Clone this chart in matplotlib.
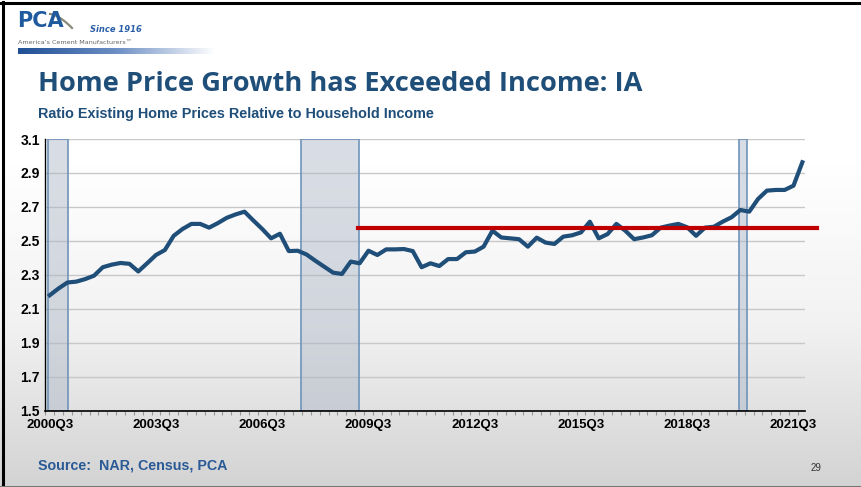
import numpy as np
import matplotlib.pyplot as plt
from matplotlib.colors import LinearSegmentedColormap

# === Daten ===
quarters = [f"{y}Q{q}" for y in range(2000, 2022) for q in range(1, 5)][2:]  # 2000Q3 .. 2021Q4
ratio = [2.18, 2.22, 2.255, 2.26, 2.275, 2.295, 2.345, 2.36, 2.37, 2.365,
         2.32, 2.368, 2.417, 2.446, 2.53, 2.57, 2.60, 2.60, 2.578, 2.605,
         2.636, 2.656, 2.672, 2.62, 2.57, 2.515, 2.542, 2.44, 2.442, 2.42,
         2.383, 2.348, 2.313, 2.305, 2.378, 2.368, 2.442, 2.417, 2.45, 2.45,
         2.452, 2.44, 2.345, 2.368, 2.352, 2.393, 2.393, 2.433, 2.437, 2.466,
         2.56, 2.52, 2.515, 2.51, 2.466, 2.519, 2.49, 2.482, 2.525, 2.533,
         2.55, 2.613, 2.515, 2.54, 2.60, 2.56, 2.51, 2.52, 2.533, 2.578,
         2.59, 2.60, 2.58, 2.53, 2.578, 2.583, 2.613, 2.639, 2.682, 2.672,
         2.747, 2.796, 2.80, 2.80, 2.825, 2.963]
recessions = [(-0.16, 2.1), (28.4, 34.9), (77.86, 78.8)]
avg_level = 2.578
avg_span = (34.84, 86.7)
tick_labels = quarters[::12]

blue = '#1f4e79'
x = np.arange(len(ratio))

fig = plt.figure(figsize=(8.61, 4.87), dpi=100)

# Hintergrund mit Verlauf
bg = fig.add_axes([0, 0, 1, 1], zorder=-10)
grad = np.linspace(0, 1, 256).reshape(-1, 1)
cmap = LinearSegmentedColormap.from_list('bg', ['#ffffff', '#ffffff', '#f2f2f2', '#d3d3d3'])
bg.imshow(grad, aspect='auto', cmap=cmap, extent=[0, 1, 0, 1], origin='upper')
bg.set_xlim(0, 1)
bg.set_ylim(0, 1)
bg.axis('off')

# Rahmen
bg.plot([0.003, 0.003], [0, 0.996], color='black', lw=2.2)
bg.plot([0, 1], [0.993, 0.993], color='black', lw=2.2)
bg.plot([0, 1], [0.001, 0.001], color='#777777', lw=1.5)

# Logo
bar = np.linspace(0, 1, 256).reshape(1, -1)
bar_cmap = LinearSegmentedColormap.from_list('bar', ['#1f4f95', '#6d8fc4', '#ffffff'])
bg.imshow(bar, aspect='auto', cmap=bar_cmap, extent=[18/861, 215/861, 1-54/487, 1-48/487])
fig.text(17/861, 1-21/487, 'PCA', fontsize=15, fontweight='bold', color='#1f5a9e',
         family='Liberation Sans Narrow', va='center')
t = np.linspace(0, 1, 20)
bg.plot((50 + 22 * t) / 861, 1 - (14 + 14 * t ** 1.6) / 487, color='#8a8a7a', lw=1.6)
fig.text(90/861, 1-29/487, 'Since 1916', fontsize=6, fontstyle='italic', fontweight='bold',
         color='#2a5fa8', va='center')
fig.text(18/861, 1-42/487, 'America\u2019s Cement Manufacturers\u2122', fontsize=4.6,
         color='#666666', va='center')

# Titel
fig.text(38/861, 1-84/487, 'Home Price Growth has Exceeded Income: IA', fontsize=19.6,
         fontweight='bold', color=blue, family='Open Sans', va='center')
fig.text(38/861, 1-114/487, 'Ratio Existing Home Prices Relative to Household Income',
         fontsize=10.4, fontweight='bold', color=blue, family='Liberation Sans', va='center')
fig.text(38/861, 1-466/487, 'Source:  NAR, Census, PCA', fontsize=10.3, fontweight='bold',
         color='#2a5a96', family='Liberation Sans', va='center')
fig.text(816/861, 1-468/487, '29', fontsize=7, color='#333333', family='Liberation Sans',
         va='center', ha='center')

# === Diagramm ===
ax = fig.add_axes([45.3/861, 1-410.7/487, (805-45.3)/861, (410.7-139)/487])
ax.set_facecolor('none')

for a, b in recessions:
    ax.axvspan(a, b, facecolor='#aab3c4', alpha=0.45, edgecolor='none', zorder=1)
    ax.axvspan(a, b, facecolor='none', edgecolor='#6f93bb', lw=1.2, zorder=1.5)

ax.plot(x, ratio, color=blue, lw=3, solid_joinstyle='round', zorder=3)
ax.plot(avg_span, [avg_level, avg_level], color='#c00000', lw=3, clip_on=False, zorder=4)

ax.set_ylim(1.5, 3.1)
ax.set_xlim(-0.5, 85.3)
ax.set_yticks(np.arange(1.5, 3.11, 0.2))
ax.set_yticklabels([f"{v:.1f}" for v in np.arange(1.5, 3.11, 0.2)])
ax.yaxis.grid(True, color='#c8c8c8', lw=1)
ax.set_axisbelow(True)
ax.tick_params(axis='y', length=0, pad=4)

ax.set_xticks(x[::12])
ax.set_xticklabels(tick_labels)
ax.set_xticks(np.arange(-0.5, 85.4, 1), minor=True)
ax.tick_params(axis='x', which='major', length=0, pad=6)
ax.tick_params(axis='x', which='minor', length=3, color='#999999', width=0.8)

for lab in ax.get_xticklabels():
    lab.set_fontweight('bold')
    lab.set_fontsize(9.5)
    lab.set_family('Liberation Sans')
for lab in ax.get_yticklabels():
    lab.set_fontweight('bold')
    lab.set_fontsize(10)
    lab.set_family('Liberation Sans')

for s in ['top', 'right']:
    ax.spines[s].set_visible(False)
ax.spines['left'].set_color('black')
ax.spines['bottom'].set_color('black')
ax.spines['left'].set_linewidth(1)
ax.spines['bottom'].set_linewidth(1.2)

plt.savefig('out.png', dpi=100)
